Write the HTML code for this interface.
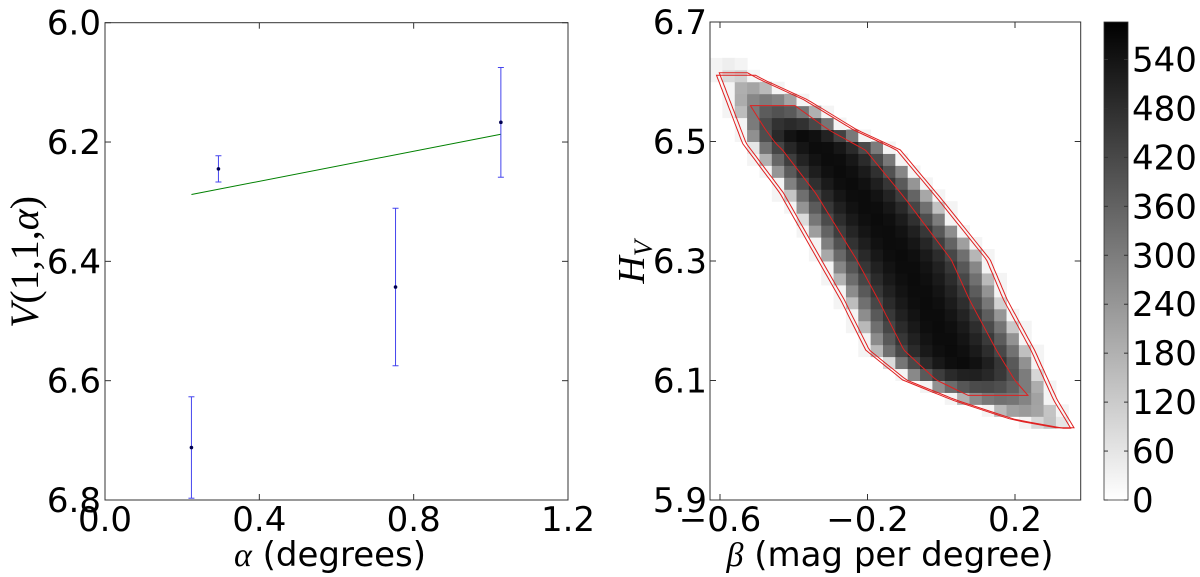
<!DOCTYPE html>
<html><head><meta charset="utf-8"><style>
html,body{margin:0;padding:0;background:#fff;}
svg{display:block;font-family:"DejaVu Sans","Liberation Sans",sans-serif;}
</style></head><body>
<svg id="fig" width="1200" height="577" viewBox="0 0 1200 577">
<defs>
<linearGradient id="cbg" x1="0" y1="1" x2="0" y2="0">
<stop offset="0" stop-color="#fff"/><stop offset="1" stop-color="#000"/>
</linearGradient>
<clipPath id="clipL"><rect x="105" y="22.7" width="463" height="477.3"/></clipPath>
<clipPath id="clipR"><rect x="710" y="22" width="370.7" height="478"/></clipPath>
</defs>
<g id="left"></g>
<g id="right"></g>
<g id="cbar"></g>
</svg>
<script>
// ---- left panel data ----
const alphaVals=[0.224,0.294,0.753,1.026];
const vVals=[6.712,6.245,6.443,6.167];
const vErr=[0.085,0.022,0.132,0.092];
const fitAlpha=[0.224,1.026];
const fitV=[6.288,6.187];
const xTicksL=[0.0,0.4,0.8,1.2];
const xTickLabelsL=["0.0","0.4","0.8","1.2"];
const yTicksL=[6.0,6.2,6.4,6.6,6.8];
const yTickLabelsL=["6.0","6.2","6.4","6.6","6.8"];
// ---- right panel data ----
const leftEdgeH=[6.615,6.497,6.414,6.302,6.235,6.151,6.101,6.067,6.034,6.020];
const leftEdgeB=[-0.592,-0.519,-0.418,-0.315,-0.253,-0.185,-0.085,0.051,0.214,0.341];
const rightEdgeH=[6.623,6.603,6.570,6.519,6.486,6.402,6.302,6.235,6.151,6.067,6.020];
const rightEdgeB=[-0.559,-0.500,-0.383,-0.247,-0.131,-0.017,0.113,0.159,0.233,0.295,0.341];
const peakCount=[560];
const xTicksR=[-0.6,-0.2,0.2];
const xTickLabelsR=["\u22120.6","\u22120.2","0.2"];
const yTicksR=[5.9,6.1,6.3,6.5,6.7];
const yTickLabelsR=["5.9","6.1","6.3","6.5","6.7"];
const cbTicks=[0,60,120,180,240,300,360,420,480,540];
const cbMax=[586];

const NS="http://www.w3.org/2000/svg";
function mk(parent,tag,attrs,name,text){
  const e=document.createElementNS(NS,tag);
  for(const k in attrs)e.setAttribute(k,attrs[k]);
  
  
  if(text!==undefined)e.textContent=text;
  parent.appendChild(e);return e;
}
const xL=a=>105+a*(463/1.2);
const yL=v=>22.7+(v-6.0)*(477.3/0.8);
const xR=b=>720+(b+0.6)*368.75;
const yR=h=>22+(6.7-h)*597.5;
const yC=c=>500-c*(478/cbMax[0]);

const L=document.getElementById('left');
const R=document.getElementById('right');
const C=document.getElementById('cbar');

// ===== Left panel =====
mk(L,'rect',{x:105,y:22.7,width:463,height:477.3,fill:'#fff',stroke:'#333','stroke-width':1},'left-plot-area');
xTicksL.forEach((t,i)=>{
  const x=xL(t);
  mk(L,'line',{x1:x,x2:x,y1:500,y2:494,stroke:'#333'},'x-tick');
  mk(L,'line',{x1:x,x2:x,y1:22.7,y2:28.7,stroke:'#333'},'x-tick-top');
  mk(L,'text',{x:x,y:531,'font-size':34,'text-anchor':'middle'},'x-tick-label',xTickLabelsL[i]);
});
yTicksL.forEach((t,i)=>{
  const y=yL(t);
  mk(L,'line',{x1:105,x2:111,y1:y,y2:y,stroke:'#333'},'y-tick');
  mk(L,'line',{x1:568,x2:562,y1:y,y2:y,stroke:'#333'},'y-tick-right');
  mk(L,'text',{x:101,y:y+12,'font-size':34,'text-anchor':'end'},'y-tick-label',yTickLabelsL[i]);
});
const gL=mk(L,'g',{'clip-path':'url(#clipL)'},'left-series');
mk(gL,'line',{x1:xL(fitAlpha[0]),y1:yL(fitV[0]),x2:xL(fitAlpha[1]),y2:yL(fitV[1]),stroke:'#008000','stroke-width':1},'fit-line');
alphaVals.forEach((a,i)=>{
  const x=xL(a),y1=yL(vVals[i]-vErr[i]),y2=yL(vVals[i]+vErr[i]);
  mk(gL,'line',{x1:x,x2:x,y1:y1,y2:y2,stroke:'#4444ee','stroke-width':1},'error-bar');
  mk(gL,'line',{x1:x-3,x2:x+3,y1:y1,y2:y1,stroke:'#4444ee'},'error-cap');
  mk(gL,'line',{x1:x-3,x2:x+3,y1:y2,y2:y2,stroke:'#4444ee'},'error-cap');
  mk(gL,'circle',{cx:x,cy:yL(vVals[i]),r:1.8,fill:'#000050'},'data-point');
});
mk(L,'text',{x:330,y:566,'font-size':34,'text-anchor':'middle'},'x-axis-title').innerHTML='<tspan font-family="Liberation Serif,serif" font-style="italic">α</tspan> (degrees)';
mk(L,'text',{x:0,y:0,'font-size':40,'text-anchor':'middle',transform:'translate(38,262) rotate(-90)','font-family':'Liberation Serif,serif'},'y-axis-title').innerHTML='<tspan font-style="italic">V</tspan>(1,1,<tspan font-style="italic">α</tspan>)';

// ===== Right panel =====
mk(R,'rect',{x:710,y:22,width:370.7,height:478,fill:'#fff'},'right-plot-area');
function interp(hs,bs,h){
  if(h>hs[0]||h<hs[hs.length-1])return null;
  for(let i=0;i<hs.length-1;i++){
    if(h<=hs[i]&&h>=hs[i+1]){const t=(hs[i]-h)/(hs[i]-hs[i+1]||1);return bs[i]+t*(bs[i+1]-bs[i]);}
  }
  return null;
}
const gR=mk(R,'g',{'clip-path':'url(#clipR)'},'heatmap');
const bMin=-0.627,bW=(0.378+0.627)/30,hW=0.02;
const hTop=Math.min(leftEdgeH[0],rightEdgeH[0]),hBot=Math.max(leftEdgeH[leftEdgeH.length-1],rightEdgeH[rightEdgeH.length-1]);
for(let r=0;r<40;r++){
  const h=5.9+(r+0.5)*hW;
  const lb=interp(leftEdgeH,leftEdgeB,Math.min(h,leftEdgeH[0]));
  const rb=interp(rightEdgeH,rightEdgeB,Math.min(h,rightEdgeH[0]));
  if(lb===null||rb===null)continue;
  if(h>hTop+0.025||h<hBot-0.02)continue;
  const tipD=Math.min(hTop-h,h-hBot);
  const pk=peakCount[0]*Math.max(0.2,Math.min(1,(tipD+0.02)/0.12));
  for(let c=0;c<30;c++){
    const b=bMin+(c+0.5)*bW;
    const w=Math.max(rb-lb,0.02);
    let t=(b-lb)/w, v;
    if(t>=0&&t<=1)v=pk*Math.pow(Math.sin(Math.PI*t),0.45);
    else if(b>lb-0.03&&b<rb+0.03)v=25;
    else continue;
    if(tipD<0)v=Math.min(v,40);
    const g=Math.round(255*(1-Math.min(v,cbMax[0])/cbMax[0]));
    const x0=xR(bMin+c*bW),x1=xR(bMin+(c+1)*bW);
    mk(gR,'rect',{x:x0,y:yR(5.9+(r+1)*hW),width:x1-x0+0.5,height:hW*597.5+0.5,fill:`rgb(${g},${g},${g})`},'heatmap-cell');
  }
}
function contour(off,frac,hCut){
  const pts=[],back=[];
  for(let h=hTop-hCut;h>=hBot+hCut;h-=0.005){
    const lb=interp(leftEdgeH,leftEdgeB,h),rb=interp(rightEdgeH,rightEdgeB,h);
    if(lb===null||rb===null)continue;
    const w=rb-lb;
    pts.push([xR(lb+frac*w-off),yR(h)]);
    back.push([xR(rb-frac*w+off),yR(h)]);
  }
  const all=pts.concat(back.reverse());
  return 'M'+all.map(p=>p[0].toFixed(1)+','+p[1].toFixed(1)).join('L')+'Z';
}
mk(gR,'path',{d:contour(0.02,0,-0.006),fill:'none',stroke:'#e02020','stroke-width':1},'contour-outer');
mk(gR,'path',{d:contour(0.01,0,0.0),fill:'none',stroke:'#e02020','stroke-width':1},'contour-middle');
mk(gR,'path',{d:contour(0,0.2,0.055),fill:'none',stroke:'#e02020','stroke-width':1},'contour-inner');
mk(R,'rect',{x:710,y:22,width:370.7,height:478,fill:'none',stroke:'#333'},'right-frame');
xTicksR.forEach((t,i)=>{
  const x=xR(t);
  mk(R,'line',{x1:x,x2:x,y1:500,y2:494,stroke:'#333'},'x-tick');
  mk(R,'line',{x1:x,x2:x,y1:22,y2:28,stroke:'#333'},'x-tick-top');
  mk(R,'text',{x:x,y:531,'font-size':34,'text-anchor':'middle'},'x-tick-label',xTickLabelsR[i]);
});
yTicksR.forEach((t,i)=>{
  const y=yR(t);
  mk(R,'line',{x1:710,x2:716,y1:y,y2:y,stroke:'#333'},'y-tick');
  mk(R,'line',{x1:1080.7,x2:1074.7,y1:y,y2:y,stroke:'#333'},'y-tick-right');
  mk(R,'text',{x:707,y:y+12,'font-size':34,'text-anchor':'end'},'y-tick-label',yTickLabelsR[i]);
});
mk(R,'text',{x:890,y:566,'font-size':34,'text-anchor':'middle'},'x-axis-title').innerHTML='<tspan font-family="Liberation Serif,serif" font-style="italic">β</tspan> (mag per degree)';
mk(R,'text',{x:0,y:0,'font-size':38,'text-anchor':'middle',transform:'translate(644,262) rotate(-90)','font-family':'Liberation Serif,serif','font-style':'italic'},'y-axis-title').innerHTML='H<tspan font-size="26" dy="8">V</tspan>';

// ===== Colorbar =====
mk(C,'rect',{x:1104,y:22,width:24,height:478,fill:'url(#cbg)',stroke:'#333','stroke-width':0.8},'colorbar-gradient');
cbTicks.forEach(t=>{
  const y=yC(t);
  mk(C,'line',{x1:1104,x2:1108,y1:y,y2:y,stroke:'#333'},'colorbar-tick');
  mk(C,'line',{x1:1128,x2:1124,y1:y,y2:y,stroke:'#333'},'colorbar-tick');
  mk(C,'text',{x:1132,y:y+12,'font-size':34},'colorbar-tick-label',String(t));
});
</script>
</body></html>
